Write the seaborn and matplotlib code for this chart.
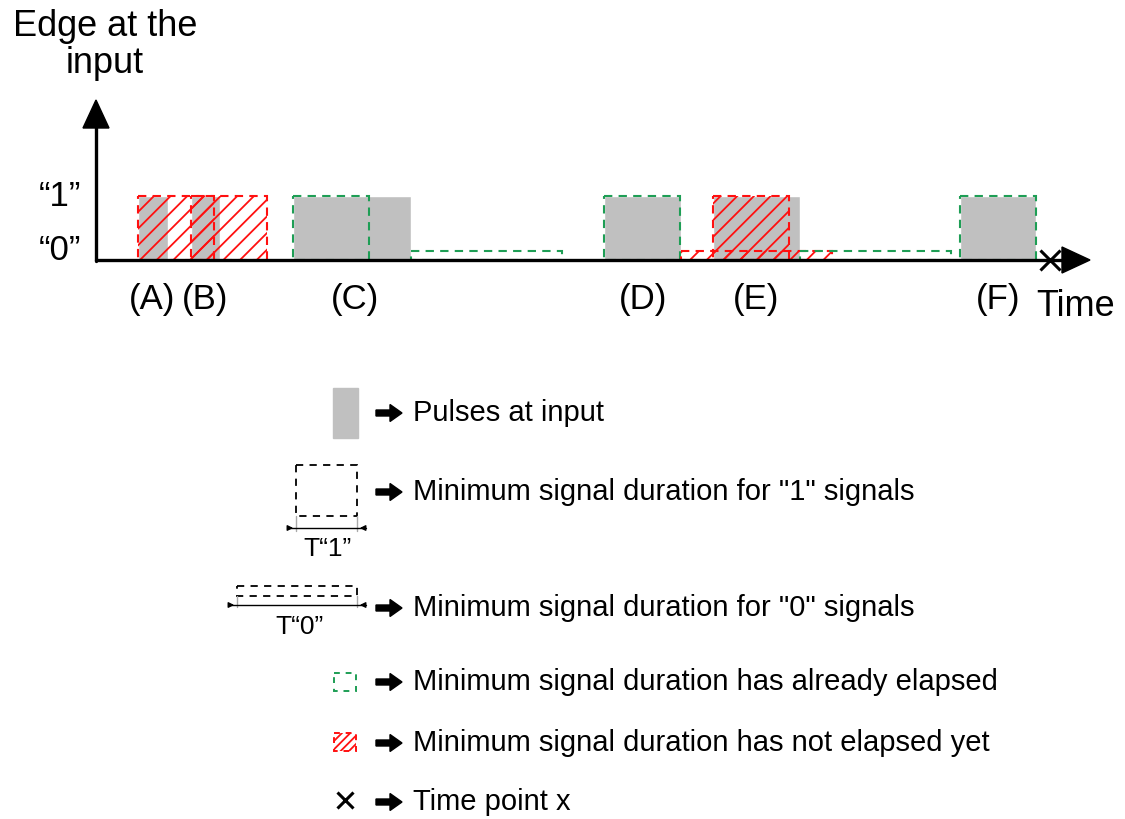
import numpy as np
import pandas as pd
import matplotlib
matplotlib.use("Agg")
import matplotlib.pyplot as plt
from matplotlib.patches import Rectangle
import seaborn as sns

sns.set_style("white")
plt.rcParams['font.family'] = ['Liberation Sans', 'DejaVu Sans']
plt.rcParams['text.color'] = 'black'
plt.rcParams['hatch.linewidth'] = 1.3

# timeline data (time in diagram units)
pulse_start = [138, 191, 293, 604, 713, 960]
pulse_end = [168, 220, 411, 681, 800, 1036]
pulse_labels = ["(A)", "(B)", "(C)", "(D)", "(E)", "(F)"]
label_x = [152, 205, 355, 643, 756, 998]

# minimum duration windows: (start, state, elapsed)
t_one = 76
t_zero = 151
win_start = [138, 191, 293, 411, 604, 681, 713, 800, 960]
win_state = ["1", "1", "1", "0", "1", "0", "1", "0", "1"]
win_elapsed = [False, False, True, True, True, False, False, True, True]
time_x = 1050

legend_texts = ["Pulses at input",
                'Minimum signal duration for "1" signals',
                'Minimum signal duration for "0" signals',
                "Minimum signal duration has already elapsed",
                "Minimum signal duration has not elapsed yet",
                "Time point x"]
legend_y = [413, 492, 608, 682, 743, 802]

GRAY = "#c0c0c0"
GREEN = "#1e9e55"
RED = "#ff1010"

fig = plt.figure(figsize=(11.25, 8.19), dpi=100)
ax = fig.add_axes([0, 0, 1, 1])
ax.set_xlim(0, 1125)
ax.set_ylim(819, 0)
ax.axis("off")

base = 260
high = 196
low = 251

# gray pulses
ax.bar(pulse_start, base - high, width=np.array(pulse_end) - np.array(pulse_start),
       bottom=high, align="edge", color=GRAY, zorder=1)

# min-duration windows
for s, st, el in zip(win_start, win_state, win_elapsed):
    w = t_one if st == "1" else t_zero
    top = high if st == "1" else low
    col = GREEN if el else RED
    ax.add_patch(Rectangle((s, top), w, base - top, fill=False, edgecolor=col,
                           linestyle=(0, (4, 3)), linewidth=1.5,
                           hatch=None if el else "//", zorder=2))

# axes arrows
ax.plot([96, 1068], [base, base], color="black", lw=2.4, zorder=3)
ax.arrow(1060, base, 30, 0, width=0.1, head_width=26, head_length=28,
         length_includes_head=True, color="black", zorder=3)
ax.plot([96, 96], [base + 1, 126], color="black", lw=2.4, zorder=3)
ax.arrow(96, 130, 0, -30, width=0.1, head_width=26, head_length=28,
         length_includes_head=True, color="black", zorder=3)
ax.plot(time_x, base, marker="x", color="black", markersize=14, mew=2.2, zorder=4)

ax.text(105, 45, "Edge at the\ninput", ha="center", va="center", fontsize=26,
        linespacing=1.05)
ax.text(60, 197, "\u201c1\u201d", ha="center", va="center", fontsize=25)
ax.text(60, 250, "\u201c0\u201d", ha="center", va="center", fontsize=25)
for lx, lb in zip(label_x, pulse_labels):
    ax.text(lx, 299, lb, ha="center", va="center", fontsize=25)
ax.text(1076, 306, "Time", ha="center", va="center", fontsize=26)

# legend
def block_arrow(y):
    ax.arrow(376, y, 26, 0, width=6, head_width=17, head_length=12,
             length_includes_head=True, color="black")

for t, y in zip(legend_texts, legend_y):
    block_arrow(y)
    ax.text(413, y, t, ha="left", va="center", fontsize=21)

ax.add_patch(Rectangle((333, 388), 25, 50, color=GRAY))

# T"1" box
ax.add_patch(Rectangle((296, 465), 61, 51, fill=False, edgecolor="black",
                       linestyle=(0, (4, 3.5)), linewidth=1.3))
ax.plot([296, 296], [516, 531], color="#aaaaaa", lw=1)
ax.plot([357, 357], [516, 531], color="#aaaaaa", lw=1)
ax.plot([288, 366], [528, 528], color="black", lw=1)
ax.annotate("", xy=(296, 528), xytext=(285, 528),
            arrowprops=dict(arrowstyle="-|>", color="black", lw=1, mutation_scale=8))
ax.annotate("", xy=(357, 528), xytext=(368, 528),
            arrowprops=dict(arrowstyle="-|>", color="black", lw=1, mutation_scale=8))
ax.text(327, 549, "T\u201c1\u201d", ha="center", va="center", fontsize=19)

# T"0" box
ax.add_patch(Rectangle((237, 586), 120, 10, fill=False, edgecolor="black",
                       linestyle=(0, (4, 3.5)), linewidth=1.3))
ax.plot([237, 237], [596, 607], color="#aaaaaa", lw=1)
ax.plot([357, 357], [596, 607], color="#aaaaaa", lw=1)
ax.plot([230, 366], [605, 605], color="black", lw=1)
ax.annotate("", xy=(237, 605), xytext=(226, 605),
            arrowprops=dict(arrowstyle="-|>", color="black", lw=1, mutation_scale=8))
ax.annotate("", xy=(357, 605), xytext=(368, 605),
            arrowprops=dict(arrowstyle="-|>", color="black", lw=1, mutation_scale=8))
ax.text(300, 627, "T\u201c0\u201d", ha="center", va="center", fontsize=19)

# small status boxes
ax.add_patch(Rectangle((334, 673), 22, 18, fill=False, edgecolor=GREEN,
                       linestyle=(0, (3, 3)), linewidth=1.4))
ax.add_patch(Rectangle((334, 733), 22, 18, fill=False, edgecolor=RED,
                       linestyle=(0, (3, 3)), linewidth=1.4, hatch="////"))
ax.plot(345, 800, marker="x", color="black", markersize=11, mew=2.2)

fig.savefig("out.png", dpi=100)
